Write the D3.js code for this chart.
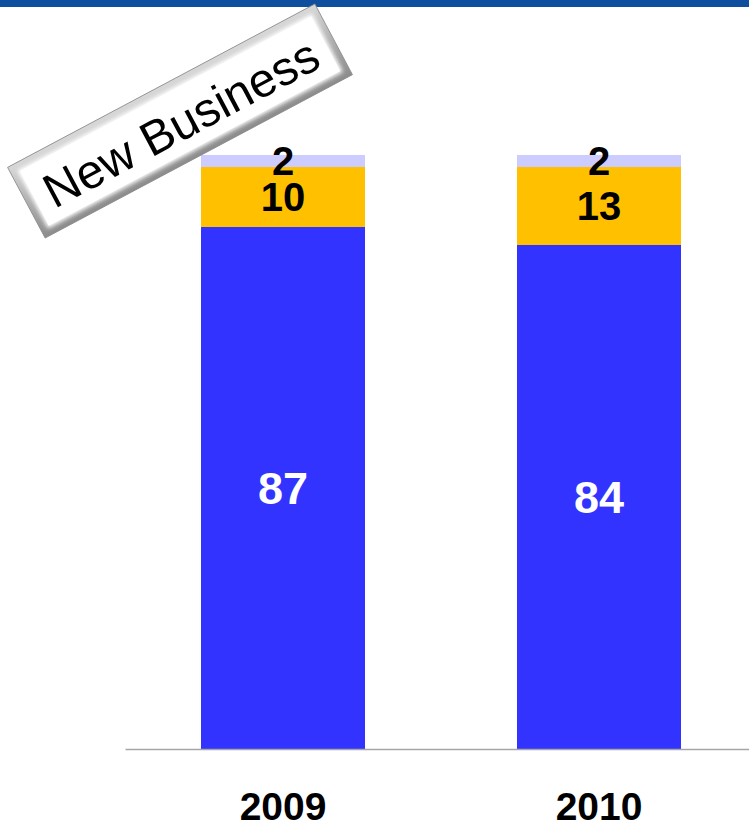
<!DOCTYPE html>
<html>
<head>
<meta charset="utf-8">
<script src="https://cdn.jsdelivr.net/npm/d3@7"></script>
<style>
  html, body { margin: 0; padding: 0; background: #fff; }
  svg { display: block; font-family: "Liberation Sans", Arial, sans-serif; }
</style>
</head>
<body>
<svg id="chart" width="749" height="828"></svg>
<script>
// Years on the x axis
const years = ["2009", "2010"];
// Stacked shares per year, bottom to top
const coreShare = [87, 84];
const midShare = [10, 13];
const newShare = [2, 2];
const seriesKeys = ["core", "mid", "new"];
const seriesColors = ["#3333FF", "#FFC000", "#CCCCFF"];
const labelColors = ["#FFFFFF", "#000000", "#000000"];
const badgeText = "New Business";

const W = 749, H = 828;
const svg = d3.select("#chart");

// Header strip
svg.append("rect").attr("x", 0).attr("y", 0).attr("width", W).attr("height", 7).attr("fill", "#0D4F9E");

const rows = years.map((y, i) => ({ year: y, core: coreShare[i], mid: midShare[i], new: newShare[i] }));
const stacked = d3.stack().keys(seriesKeys)(rows);

const x = d3.scaleBand().domain(years).range([125, 757]).paddingInner(0.481).paddingOuter(0.2405);
const y = d3.scaleLinear().domain([0, 100]).range([749, 149]);

const layers = svg.append("g").selectAll("g")
  .data(stacked).join("g")
  .attr("fill", (d, i) => seriesColors[i]);

layers.selectAll("rect")
  .data(d => d.map(p => ({ p, year: p.data.year })))
  .join("rect")
  .attr("x", d => x(d.year))
  .attr("width", x.bandwidth())
  .attr("y", d => y(d.p[1]))
  .attr("height", d => y(d.p[0]) - y(d.p[1]));

// Axis along the baseline
const axis = svg.append("g")
  .attr("transform", `translate(0,${y(0)})`)
  .call(d3.axisBottom(x).tickSize(0).tickPadding(43));
axis.select(".domain").attr("stroke", "#A6A6A6").attr("stroke-width", 1.5);
axis.selectAll(".tick text")
  .attr("font-size", 39).attr("font-weight", "bold").attr("fill", "#000")
  .attr("font-family", "'Liberation Sans', Arial, sans-serif");

// Value labels inside each segment
stacked.forEach((layer, li) => {
  svg.append("g").selectAll("text")
    .data(layer).join("text")
    .attr("x", d => x(d.data.year) + x.bandwidth() / 2)
    .attr("y", d => (y(d[0]) + y(d[1])) / 2)
    .attr("dy", "0.36em")
    .attr("text-anchor", "middle")
    .attr("font-weight", "bold")
    .attr("font-size", li === 0 ? 45 : 40)
    .attr("fill", labelColors[li])
    .text(d => d[1] - d[0]);
});

// Bevelled badge
const defs = svg.append("defs");
const g1 = defs.append("linearGradient").attr("id", "bevel").attr("x1", 0).attr("y1", 0).attr("x2", 0).attr("y2", 1);
g1.append("stop").attr("offset", "0%").attr("stop-color", "#d8d8d8");
g1.append("stop").attr("offset", "50%").attr("stop-color", "#b0b0b0");
g1.append("stop").attr("offset", "100%").attr("stop-color", "#8c8c8c");
defs.append("filter").attr("id", "soft").attr("x", "-10%").attr("y", "-30%").attr("width", "120%").attr("height", "160%")
  .append("feGaussianBlur").attr("stdDeviation", 2.2);

const bw = 348, bh = 80;
const badge = svg.append("g").attr("transform", "translate(180,121) rotate(-28)");
badge.append("rect").attr("x", -bw / 2).attr("y", -bh / 2).attr("width", bw).attr("height", bh)
  .attr("fill", "url(#bevel)").attr("stroke", "#8a8a8a").attr("stroke-width", 0.8);
badge.append("rect").attr("x", -bw / 2 + 7).attr("y", -bh / 2 + 7).attr("width", bw - 14).attr("height", bh - 14)
  .attr("fill", "#ffffff").attr("filter", "url(#soft)");
badge.append("rect").attr("x", -bw / 2 + 9).attr("y", -bh / 2 + 9).attr("width", bw - 18).attr("height", bh - 18)
  .attr("fill", "#ffffff");
badge.append("text").attr("x", 0).attr("y", 2).attr("dy", "0.35em")
  .attr("text-anchor", "middle").attr("font-size", 48).attr("fill", "#000")
  .text(badgeText);
</script>
</body>
</html>
